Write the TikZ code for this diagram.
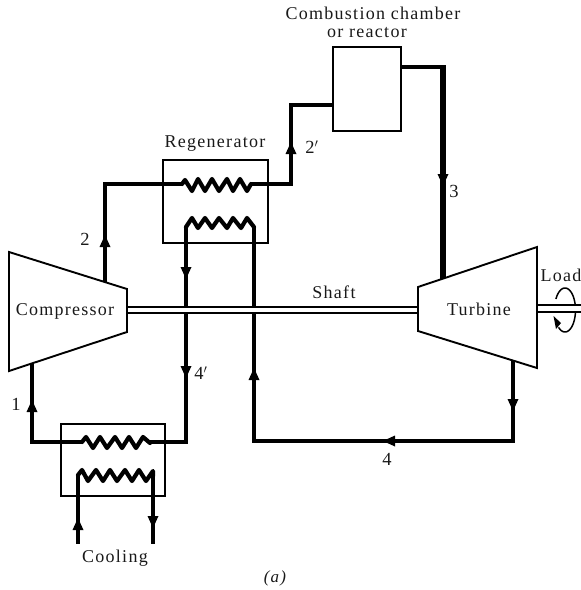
\documentclass[tikz,border=0pt]{standalone}
\usepackage{fontspec}
\setmainfont[LetterSpace=7]{Liberation Serif}
\newcommand{\hd}[4]{\fill[black] (#1,#2) -- ({#1-12*(#3)+5.5*(#4)},{#2-12*(#4)+5.5*(#3)}) -- ({#1-12*(#3)-5.5*(#4)},{#2-12*(#4)-5.5*(#3)}) -- cycle;}
\tikzset{
  pipe/.style={line width=4.3pt,line join=miter},
  thinpipe/.style={line width=3.8pt,line join=miter},
  heavy/.style={line width=5.8pt,line join=miter},
  coil/.style={line width=4.2pt,line join=round,line cap=round},
  unit/.style={draw,line width=2pt,fill=none,inner sep=0pt,outer sep=0pt},
  casing/.style={draw,line width=1.9pt,line join=miter,fill=white},
  shaftline/.style={line width=1.9pt},
  lbl/.style={font=\fontsize{18}{20}\selectfont,inner sep=0pt,text=black!90},
  numlbl/.style={font=\fontsize{18.5}{20}\selectfont,inner sep=0pt,text=black!90}
}
\begin{document}
\begin{tikzpicture}[x=1pt,y=-1pt]
\useasboundingbox (0,0) rectangle (581,590);
% junction coordinates
\coordinate (compTop) at (105,283);
\coordinate (compBot) at (32,364);
\coordinate (turbTop) at (443,279);
\coordinate (turbBot) at (513,360);
% pipes
\draw[thinpipe] (compTop) -- (105,184) -- (182,184);
\draw[coil] (182,184) -- (185,180) -- (192,191) -- (198,179) -- (205,191) -- (212,179) -- (219,191) -- (227,179) -- (233,191) -- (240,179) -- (247,191) -- (251,184);
\draw[thinpipe] (250,184) -- (291,184) -- (291,105) -- (333,105);
\draw[thinpipe] (401,67) -- (443,67);
\draw[heavy] (443,65) -- (turbTop);
\draw[coil] (186,227) -- (192,218) -- (198,228) -- (205,218) -- (212,228) -- (219,218) -- (227,228) -- (233,218) -- (241,228) -- (247,218) -- (254,227);
\draw[pipe] (186,226) -- (186,442) -- (150,442);
\draw[pipe] (254,226) -- (254,441) -- (513,441) -- (turbBot);
\draw[coil] (150,443) -- (143,437) -- (136,448) -- (129,437) -- (122,448) -- (115,437) -- (107,448) -- (100,437) -- (93,448) -- (86,437) -- (82,442);
\draw[pipe] (82,442) -- (32,442) -- (compBot);
\draw[coil] (78,475) -- (82,470) -- (88,481) -- (96,470) -- (103,481) -- (110,470) -- (117,481) -- (125,470) -- (132,481) -- (139,470) -- (146,481) -- (153,471) -- (153,476);
\draw[pipe] (78,475) -- (78,544);
\draw[pipe] (153,475) -- (153,544);
% load rotation
\draw[line width=1.5pt] plot[smooth,domain=150:-128,samples=40] ({565+10.5*cos(\x)},{310-22*sin(\x)});
% shaft
\fill[white] (127,307) rectangle (418,313);
\draw[shaftline] (127,307) -- (418,307) (127,313) -- (418,313);
\fill[white] (537,305) rectangle (581,312);
\draw[shaftline] (537,305) -- (581,305) (537,312) -- (581,312);
% units
\node[unit,minimum width=105pt,minimum height=83pt] (regen) at (215.5,201.5) {};
\node[unit,minimum width=68pt,minimum height=84pt] (chamber) at (367,88.5) {};
\node[unit,minimum width=104pt,minimum height=72pt] (cooler) at (113,460) {};
\draw[casing] (9,252) -- (127,289) -- (127,332) -- (9,371) -- cycle;
\draw[casing] (418,287) -- (537,247) -- (537,368) -- (418,331) -- cycle;
% arrowheads
\hd{105}{235}{0}{-1}
\hd{291}{142}{0}{-1}
\hd{443}{186}{0}{1}
\hd{186}{279}{0}{1}
\hd{186}{378}{0}{1}
\hd{254}{368}{0}{-1}
\hd{513}{411}{0}{1}
\hd{383}{441}{-1}{0}
\hd{32}{400}{0}{-1}
\hd{78}{518}{0}{-1}
\hd{153}{528}{0}{1}
\fill[black] (553.5,316) -- (556,329) -- (561,323) -- cycle;
% labels
\node[lbl] (tchamber) at (373,13) {Combustion chamber};
\node[lbl] (treactor) at (367,33) {or reactor};
\node[lbl] (tregen) at (215,144) {Regenerator};
\node[lbl] (tcomp) at (65,311) {Compressor};
\node[lbl] (tturb) at (479,309) {Turbine};
\node[lbl] (tshaft) at (334,292) {Shaft};
\node[lbl] (tload) at (561,275) {Load};
\node[lbl] (tcool) at (115,558) {Cooling};
\node[lbl,font=\fontsize{17}{18}\itshape] (ta) at (275,578) {(a)};
\node[numlbl] (n1) at (16,404) {1};
\node[numlbl] (n2) at (85,239) {2};
\node[numlbl] (n2p) at (312,147) {2$'$};
\node[numlbl] (n3) at (454,191) {3};
\node[numlbl] (n4) at (387,459) {4};
\node[numlbl] (n4p) at (201,373) {4$'$};
\end{tikzpicture}
\end{document}
